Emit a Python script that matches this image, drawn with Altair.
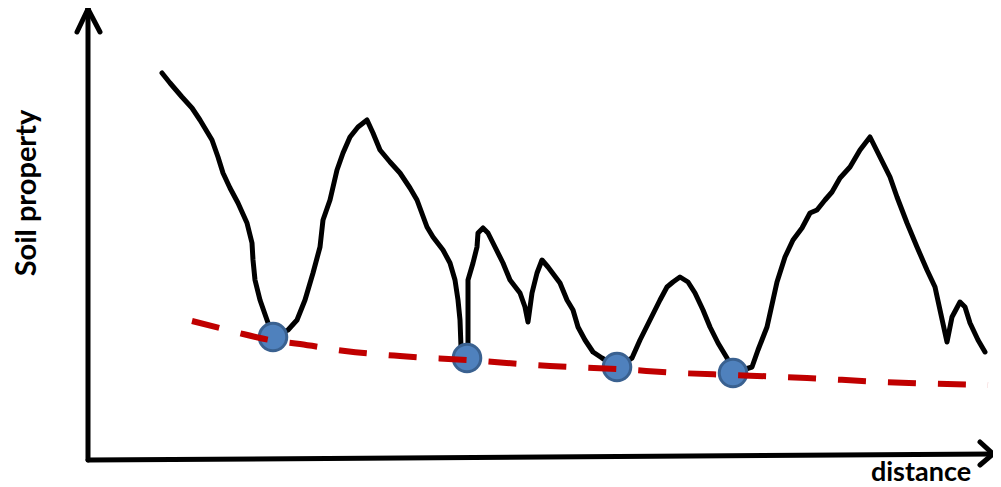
import altair as alt
import pandas as pd

# Soil property profile (distance, value)
line_x = [74, 82, 94, 104, 112, 124, 130, 135, 142, 150, 159, 164, 165, 167, 172, 179, 185,
          200, 209, 217, 225, 232, 235, 242, 249, 255, 262, 270, 279, 285, 292, 302, 312, 322,
          329, 339, 345, 355, 362, 367, 370, 372, 373, 379, 380, 380, 385, 389, 390, 395, 400,
          405, 415, 422, 432, 437, 440, 444, 449, 454, 460, 472, 479, 485, 490, 497, 505, 514,
          529, 544, 552, 562, 572, 579, 585, 592, 600, 607, 615, 622, 630, 639, 645, 664, 670,
          679, 685, 689, 697, 705, 714, 722, 729, 737, 744, 752, 762, 772, 782, 790, 802, 809,
          819, 829, 839, 847, 852, 859, 864, 872, 877, 882, 890, 897]
line_y = [387, 377, 363, 352, 340, 320, 303, 287, 272, 257, 237, 217, 200, 180, 160, 140, 123,
          130, 140, 160, 187, 213, 240, 260, 290, 307, 323, 333, 340, 327, 310, 298, 287, 272,
          260, 233, 223, 210, 197, 180, 160, 140, 113, 102, 113, 180, 197, 213, 227, 232, 227,
          217, 197, 180, 167, 153, 138, 167, 187, 200, 193, 177, 160, 150, 133, 120, 108, 102,
          93, 102, 120, 140, 160, 173, 178, 183, 178, 167, 150, 133, 117, 102, 87, 93, 110,
          133, 160, 178, 203, 220, 232, 247, 250, 260, 268, 282, 293, 310, 323, 307, 283, 263,
          237, 213, 190, 173, 150, 118, 143, 158, 153, 137, 120, 108]

# Lower envelope (red dashed)
env_x = [104, 132, 155, 182, 212, 257, 312, 379, 462, 529, 592, 645, 719, 795, 900]
env_y = [139, 132, 126, 120, 116, 109, 104, 100, 94, 91, 87, 85, 82, 78, 75]

# Local minima (blue points)
min_x = [185, 379, 529, 645]
min_y = [123, 102, 93, 87]

# Axis arrows (segments)
ax_x = [0, 0, 0, 0, 905, 905]
ax_y = [0, 451, 451, 0, 6, 6]
ax_x2 = [0, -11, 12, 905, 892, 892]
ax_y2 = [451, 428, 428, 6, 18, -5]

xs = alt.Scale(domain=[-80, 905], nice=False, zero=False)
ys = alt.Scale(domain=[-19, 452], nice=False, zero=False)

df_line = pd.DataFrame({"x": line_x, "y": line_y, "o": range(len(line_x))})
df_env = pd.DataFrame({"x": env_x, "y": env_y})
df_min = pd.DataFrame({"x": min_x, "y": min_y})
df_ax = pd.DataFrame({"x": ax_x, "y": ax_y, "x2": ax_x2, "y2": ax_y2})
df_t1 = pd.DataFrame({"x": [-61], "y": [267], "t": ["Soil property"]})
df_t2 = pd.DataFrame({"x": [833], "y": [-21], "t": ["distance"]})

axes = alt.Chart(df_ax).mark_rule(color="black", strokeWidth=5, strokeCap="round").encode(
    x=alt.X("x:Q", scale=xs, axis=None), y=alt.Y("y:Q", scale=ys, axis=None),
    x2="x2:Q", y2="y2:Q")

profile = alt.Chart(df_line).mark_line(color="black", strokeWidth=5, strokeJoin="round",
                                       strokeCap="round").encode(
    x=alt.X("x:Q", scale=xs, axis=None), y=alt.Y("y:Q", scale=ys, axis=None), order="o:Q")

points = alt.Chart(df_min).mark_circle(size=760, opacity=1, color="#4f81bd",
                                       stroke="#3a6190", strokeWidth=3).encode(
    x=alt.X("x:Q", scale=xs, axis=None), y=alt.Y("y:Q", scale=ys, axis=None))

envelope = alt.Chart(df_env).mark_line(color="#c00000", strokeWidth=6, strokeDash=[28, 22],
                                       interpolate="monotone").encode(
    x=alt.X("x:Q", scale=xs, axis=None), y=alt.Y("y:Q", scale=ys, axis=None))

t1 = alt.Chart(df_t1).mark_text(font="Lato", fontWeight="bold", fontSize=29,
                                angle=270, align="center", baseline="middle",
                                color="black").encode(
    x=alt.X("x:Q", scale=xs, axis=None), y=alt.Y("y:Q", scale=ys, axis=None), text="t:N")
t2 = alt.Chart(df_t2).mark_text(font="Lato", fontWeight="bold", fontSize=27,
                                align="center", baseline="alphabetic",
                                color="black").encode(
    x=alt.X("x:Q", scale=xs, axis=None), y=alt.Y("y:Q", scale=ys, axis=None), text="t:N")

chart = alt.layer(axes, profile, points, envelope, t1, t2).properties(
    width=985, height=471, autosize="none",
    padding={"left": 0, "top": 0, "right": 0, "bottom": 8}
).configure_view(stroke=None)

chart.save("out.html", embed_options={"renderer": "svg", "actions": False})
